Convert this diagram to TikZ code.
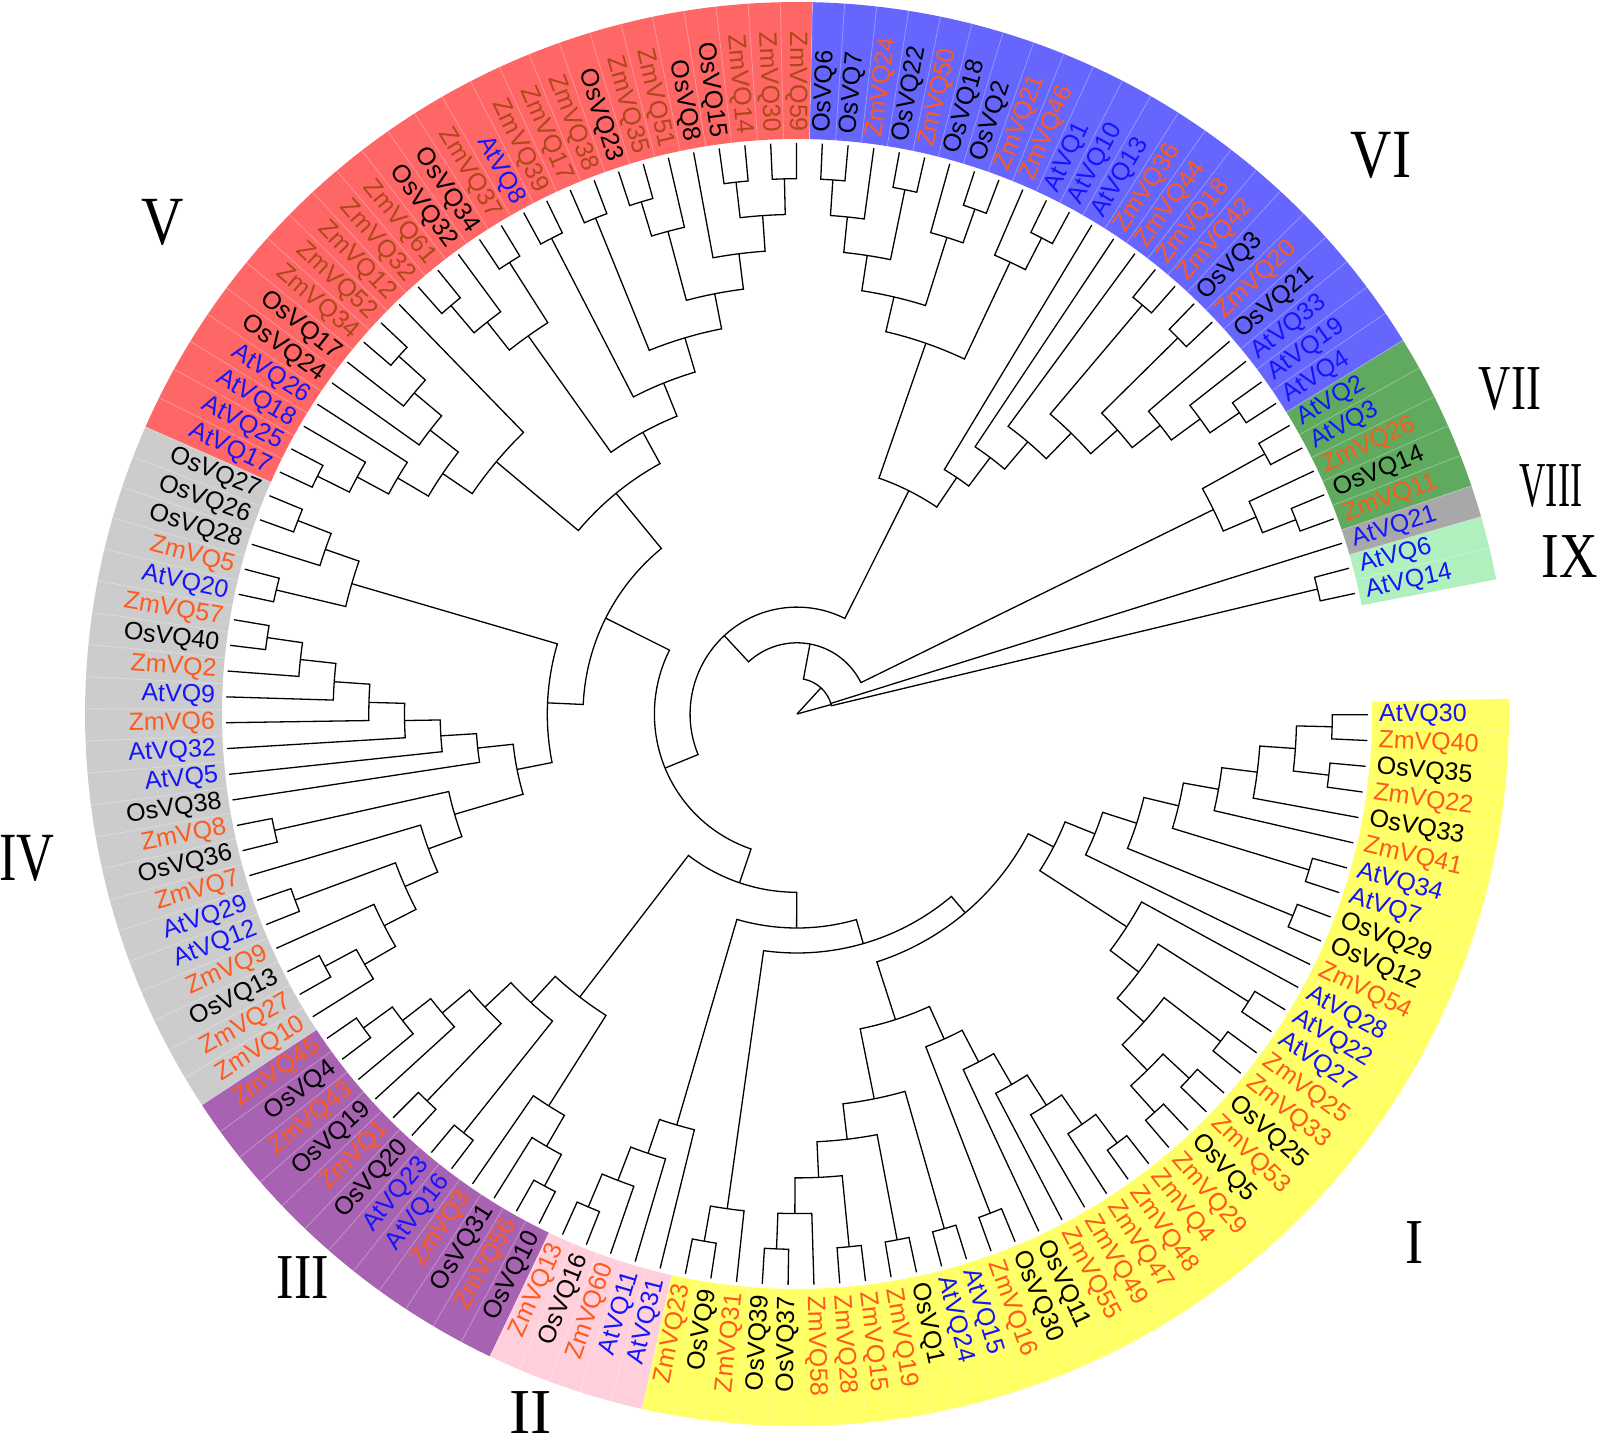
\documentclass[tikz,border=0pt]{standalone}
\usepackage{fontspec}
\setmainfont{Liberation Sans}
\newfontfamily\numfont{Liberation Serif}

\definecolor{bandI}{RGB}{255,255,102}
\definecolor{bandII}{RGB}{255,208,220}
\definecolor{bandIII}{RGB}{168,98,178}
\definecolor{bandIV}{RGB}{204,204,204}
\definecolor{bandV}{RGB}{255,102,102}
\definecolor{bandVI}{RGB}{102,102,255}
\definecolor{bandVII}{RGB}{96,170,96}
\definecolor{bandVIII}{RGB}{168,168,168}
\definecolor{bandIX}{RGB}{176,240,190}
\definecolor{Atcol}{RGB}{20,20,255}
\definecolor{Oscol}{RGB}{0,0,0}
\definecolor{Zmcol}{RGB}{255,90,30}
\definecolor{AtcolV}{RGB}{20,20,255}
\definecolor{OscolV}{RGB}{0,0,0}
\definecolor{ZmcolV}{RGB}{175,72,25}

\tikzset{
  branch/.style={line width=1.3pt, black},
  lbl/.style={inner sep=0pt, font=\fontsize{25}{25}\selectfont},
  numlbl/.style={inner sep=0pt, font=\numfont\fontsize{64}{64}\selectfont},
  sepline/.style={white, opacity=0.3, line width=0.8pt}
}

% annular sector behind leaves #2..#3
\newcommand\band[3]{%
  \pgfmathsetmacro\bA{12.2+2.595*#2-1.2975}%
  \pgfmathsetmacro\bB{12.2+2.595*#3+1.2975}%
  \fill[#1] (\bA:575) arc[start angle=\bA, end angle=\bB, radius=575]
    -- (\bB:712) arc[start angle=\bB, end angle=\bA, radius=712] -- cycle;}

% clade: name, child, child, height
\newcommand\clade[4]{%
  \pgfmathsetmacro\tA{\csname a@#2\endcsname}%
  \pgfmathsetmacro\tB{\csname a@#3\endcsname}%
  \pgfmathsetmacro\rA{\csname r@#2\endcsname}%
  \pgfmathsetmacro\rB{\csname r@#3\endcsname}%
  \pgfmathsetmacro\rN{571-35.7*#4}%
  \pgfmathsetmacro\tN{(\tA+\tB)/2}%
  \draw[branch] (\tA:\rA) -- (\tA:\rN) arc[start angle=\tA, end angle=\tB, radius=\rN] -- (\tB:\rB);
  \coordinate (#1) at (\tN:\rN);
  \expandafter\xdef\csname a@#1\endcsname{\tN}%
  \expandafter\xdef\csname r@#1\endcsname{\rN}}

\begin{document}
\begin{tikzpicture}[x=1pt,y=1pt]
\useasboundingbox (-797,-722) rectangle (803,714);

% groups
\band{bandIX}{0}{1}
\band{bandVIII}{2}{2}
\band{bandVII}{3}{7}
\band{bandVI}{8}{29}
\band{bandV}{30}{55}
\band{bandIV}{56}{77}
\band{bandIII}{78}{89}
\band{bandII}{90}{94}
\band{bandI}{95}{134}
\foreach \i in {0,...,133}{
  \pgfmathsetmacro\sA{12.2+2.595*\i+1.2975}
  \draw[sepline] (\sA:575) -- (\sA:712);
}

% leaves
\foreach \i/\spc/\nr in {0/At/14, 1/At/6, 2/At/21, 3/Zm/11, 4/Os/14, 5/Zm/26, 6/At/3, 7/At/2,
  8/At/4, 9/At/19, 10/At/33, 11/Os/21, 12/Zm/20, 13/Os/3, 14/Zm/42, 15/Zm/18, 16/Zm/44, 17/Zm/36,
  18/At/13, 19/At/10, 20/At/1, 21/Zm/46, 22/Zm/21, 23/Os/2, 24/Os/18, 25/Zm/50, 26/Os/22, 27/Zm/24,
  28/Os/7, 29/Os/6, 30/Zm/59, 31/Zm/30, 32/Zm/14, 33/Os/15, 34/Os/8, 35/Zm/51, 36/Zm/35, 37/Os/23,
  38/Zm/38, 39/Zm/17, 40/Zm/39, 41/At/8, 42/Zm/37, 43/Os/34, 44/Os/32, 45/Zm/61, 46/Zm/32, 47/Zm/12,
  48/Zm/52, 49/Zm/34, 50/Os/17, 51/Os/24, 52/At/26, 53/At/18, 54/At/25, 55/At/17, 56/Os/27, 57/Os/26,
  58/Os/28, 59/Zm/5, 60/At/20, 61/Zm/57, 62/Os/40, 63/Zm/2, 64/At/9, 65/Zm/6, 66/At/32, 67/At/5,
  68/Os/38, 69/Zm/8, 70/Os/36, 71/Zm/7, 72/At/29, 73/At/12, 74/Zm/9, 75/Os/13, 76/Zm/27, 77/Zm/10,
  78/Zm/45, 79/Os/4, 80/Zm/43, 81/Os/19, 82/Zm/1, 83/Os/20, 84/At/23, 85/At/16, 86/Zm/3, 87/Os/31,
  88/Zm/56, 89/Os/10, 90/Zm/13, 91/Os/16, 92/Zm/60, 93/At/11, 94/At/31, 95/Zm/23, 96/Os/9, 97/Zm/31,
  98/Os/39, 99/Os/37, 100/Zm/58, 101/Zm/28, 102/Zm/15, 103/Zm/19, 104/Os/1, 105/At/24, 106/At/15,
  107/Zm/16, 108/Os/30, 109/Os/11, 110/Zm/55, 111/Zm/49, 112/Zm/47, 113/Zm/48, 114/Zm/4, 115/Zm/29,
  116/Os/5, 117/Zm/53, 118/Os/25, 119/Zm/33, 120/Zm/25, 121/At/27, 122/At/22, 123/At/28, 124/Zm/54,
  125/Os/12, 126/Os/29, 127/At/7, 128/At/34, 129/Zm/41, 130/Os/33, 131/Zm/22, 132/Os/35, 133/Zm/40,
  134/At/30}{
  \pgfmathsetmacro\la{12.2+2.595*\i}
  \expandafter\xdef\csname a@\spc VQ\nr\endcsname{\la}
  \expandafter\xdef\csname r@\spc VQ\nr\endcsname{571}
  \edef\lc{\spc col}
  \ifnum\i>29 \ifnum\i<56 \edef\lc{\spc colV}\fi\fi
  \edef\lname{\spc VQ\nr}
  \ifdim\la pt>90pt
    \ifdim\la pt<270pt
      \pgfmathsetmacro\lr{\la-180}
      \node[lbl, text=\lc, anchor=east, rotate=\lr] (\lname) at (\la:582) {\spc VQ\nr};
    \else
      \node[lbl, text=\lc, anchor=west, rotate=\la] (\lname) at (\la:582) {\spc VQ\nr};
    \fi
  \else
    \node[lbl, text=\lc, anchor=west, rotate=\la] (\lname) at (\la:582) {\spc VQ\nr};
  \fi
}

% IX, VIII
\clade{P}{AtVQ14}{AtVQ6}{1}
\clade{Y}{AtVQ21}{P}{15}
% VII
\clade{E1}{AtVQ3}{AtVQ2}{1}
\clade{E2}{ZmVQ11}{OsVQ14}{1}
\clade{E3}{ZmVQ26}{E2}{2}
\clade{E}{E1}{E3}{3}
% VI
\clade{Wa1}{OsVQ6}{OsVQ7}{1}
\clade{Wa2}{Wa1}{ZmVQ24}{2}
\clade{Wp}{OsVQ22}{ZmVQ50}{1}
\clade{Wa3}{Wa2}{Wp}{3}
\clade{Wb1}{OsVQ2}{ZmVQ21}{1}
\clade{Wb2}{OsVQ18}{Wb1}{2}
\clade{Wa4}{Wa3}{Wb2}{4}
\clade{Wc1}{AtVQ1}{AtVQ10}{1}
\clade{Wc2}{ZmVQ46}{Wc1}{2}
\clade{Wa5}{Wa4}{Wc2}{5}
\clade{Wd1}{AtVQ19}{AtVQ4}{1}
\clade{Wd2}{AtVQ33}{Wd1}{2}
\clade{Wd3}{OsVQ21}{Wd2}{3}
\clade{We1}{OsVQ3}{ZmVQ20}{1}
\clade{Wd4}{We1}{Wd3}{4}
\clade{Wf1}{ZmVQ18}{ZmVQ42}{1}
\clade{Wd5}{Wf1}{Wd4}{5}
\clade{Wd6}{ZmVQ44}{Wd5}{6}
\clade{Wd7}{ZmVQ36}{Wd6}{7}
\clade{Wd8}{AtVQ13}{Wd7}{8}
\clade{VIroot}{Wa5}{Wd8}{9}
% V
\clade{Va1}{ZmVQ59}{ZmVQ30}{1}
\clade{Vb0}{ZmVQ14}{OsVQ15}{1}
\clade{Va2}{Vb0}{Va1}{2}
\clade{Va3}{OsVQ8}{Va2}{3}
\clade{Vb1}{OsVQ23}{ZmVQ35}{1}
\clade{Vb2}{Vb1}{ZmVQ51}{2}
\clade{Va4}{Vb2}{Va3}{4}
\clade{Vc1}{ZmVQ38}{ZmVQ17}{1}
\clade{Va5}{Vc1}{Va4}{5}
\clade{Vd1}{ZmVQ39}{AtVQ8}{1}
\clade{Va6}{Vd1}{Va5}{6}
\clade{Ve1}{ZmVQ37}{OsVQ34}{1}
\clade{Ve2}{ZmVQ61}{ZmVQ32}{1}
\clade{Ve3}{OsVQ32}{Ve2}{2}
\clade{Ve4}{Ve3}{Ve1}{3}
\clade{Va7}{Ve4}{Va6}{7}
\clade{Vf1}{ZmVQ52}{ZmVQ34}{1}
\clade{Vf2}{Vf1}{OsVQ17}{2}
\clade{Vf3}{Vf2}{OsVQ24}{3}
\clade{Vg1}{AtVQ25}{AtVQ17}{1}
\clade{Vg2}{AtVQ18}{Vg1}{2}
\clade{Vg3}{AtVQ26}{Vg2}{3}
\clade{Vf4}{Vf3}{Vg3}{4}
\clade{Vf5}{ZmVQ12}{Vf4}{5}
\clade{Vroot}{Va7}{Vf5}{8}
% IV
\clade{Ka1}{OsVQ27}{OsVQ26}{1}
\clade{Ka2}{Ka1}{OsVQ28}{2}
\clade{Ka3}{ZmVQ5}{AtVQ20}{1}
\clade{Ka4}{Ka2}{Ka3}{3}
\clade{Kl1}{ZmVQ57}{OsVQ40}{1}
\clade{Kl2}{Kl1}{ZmVQ2}{2}
\clade{Kl3}{Kl2}{AtVQ9}{3}
\clade{Kl4}{Kl3}{ZmVQ6}{4}
\clade{Kl5}{Kl4}{AtVQ32}{5}
\clade{Kl6}{Kl5}{AtVQ5}{6}
\clade{Kl7}{Kl6}{OsVQ38}{7}
\clade{Q1}{ZmVQ8}{OsVQ36}{1}
\clade{Q2}{OsVQ13}{ZmVQ27}{1}
\clade{Q3}{Q2}{ZmVQ10}{2}
\clade{Q4}{ZmVQ9}{Q3}{3}
\clade{Q5}{AtVQ29}{AtVQ12}{1}
\clade{Q6}{Q5}{Q4}{4}
\clade{Q7}{ZmVQ7}{Q6}{5}
\clade{Q8}{Q1}{Q7}{6}
\clade{Kb}{Kl7}{Q8}{8}
\clade{IVroot}{Ka4}{Kb}{9}
\clade{H}{IVroot}{Vroot}{10}
% III
\clade{Ta1}{ZmVQ45}{OsVQ4}{1}
\clade{Ta2}{Ta1}{ZmVQ43}{2}
\clade{Ta3}{Ta2}{OsVQ19}{3}
\clade{Tb1}{ZmVQ1}{OsVQ20}{1}
\clade{Ta4}{Ta3}{Tb1}{4}
\clade{Tc1}{AtVQ23}{AtVQ16}{1}
\clade{Ta5}{Ta4}{Tc1}{5}
\clade{Td1}{ZmVQ56}{OsVQ10}{1}
\clade{Td2}{OsVQ31}{Td1}{2}
\clade{Td3}{ZmVQ3}{Td2}{3}
\clade{IIIroot}{Ta5}{Td3}{6}
% II
\clade{Sa1}{ZmVQ13}{OsVQ16}{1}
\clade{Sa2}{Sa1}{ZmVQ60}{2}
\clade{Sa3}{Sa2}{AtVQ11}{3}
\clade{IIroot}{Sa3}{AtVQ31}{4}
% I
\clade{Ia1}{ZmVQ23}{OsVQ9}{1}
\clade{Ia2}{Ia1}{ZmVQ31}{2}
\clade{Ib1}{OsVQ39}{OsVQ37}{1}
\clade{Ib2}{Ib1}{ZmVQ58}{2}
\clade{Ib3}{ZmVQ28}{ZmVQ15}{1}
\clade{Ib4}{Ib2}{Ib3}{3}
\clade{Ib5}{ZmVQ19}{OsVQ1}{1}
\clade{Ib6}{Ib4}{Ib5}{4}
\clade{Ib7}{AtVQ24}{AtVQ15}{1}
\clade{Ib8}{Ib6}{Ib7}{5}
\clade{Ic1}{ZmVQ16}{OsVQ30}{1}
\clade{Ic2}{ZmVQ48}{ZmVQ4}{1}
\clade{Ic3}{ZmVQ47}{Ic2}{2}
\clade{Ic4}{ZmVQ49}{Ic3}{3}
\clade{Ic5}{ZmVQ55}{Ic4}{4}
\clade{Ic6}{OsVQ11}{Ic5}{5}
\clade{Ic7}{Ic1}{Ic6}{6}
\clade{Ib9}{Ib8}{Ic7}{7}
\clade{U1}{ZmVQ29}{OsVQ5}{1}
\clade{U2}{ZmVQ53}{OsVQ25}{1}
\clade{U3}{U1}{U2}{2}
\clade{U4}{ZmVQ33}{ZmVQ25}{1}
\clade{U5}{U3}{U4}{3}
\clade{U6}{AtVQ27}{AtVQ22}{1}
\clade{U7}{U5}{U6}{4}
\clade{U8}{U7}{AtVQ28}{5}
\clade{Tp1}{OsVQ12}{OsVQ29}{1}
\clade{Tp2}{AtVQ7}{AtVQ34}{1}
\clade{Tt1}{ZmVQ40}{AtVQ30}{1}
\clade{Tt2}{ZmVQ22}{OsVQ35}{1}
\clade{Tt3}{Tt2}{Tt1}{2}
\clade{Tt4}{OsVQ33}{Tt3}{3}
\clade{Tt5}{ZmVQ41}{Tt4}{4}
\clade{Tt6}{Tp2}{Tt5}{5}
\clade{Tt7}{Tp1}{Tt6}{6}
\clade{Tt8}{ZmVQ54}{Tt7}{7}
\clade{Ic8}{U8}{Tt8}{7.9}
\clade{Ic9}{Ib9}{Ic8}{8.7}
\clade{Iroot}{Ia2}{Ic9}{9.3}
% backbone
\clade{M2}{IIroot}{Iroot}{10}
\clade{M}{IIIroot}{M2}{11}
\clade{G}{H}{M}{12}
\clade{D}{G}{VIroot}{13}
\clade{C}{D}{E}{14}
\clade{X}{C}{Y}{15}
\coordinate (root) at (0,0);
\draw[branch] (root) -- (X);
\draw[branch] (root) -- (Y);

% group numerals
\node[numlbl, xscale=0.85] (nI) at (618,-529) {I};
\node[numlbl] (nII) at (-266,-699) {II};
\node[numlbl, xscale=0.82] (nIII) at (-494,-564) {III};
\node[numlbl, font=\numfont\fontsize{69}{69}\selectfont, xscale=0.76] (nIV) at (-770,-144) {IV};
\node[numlbl, font=\numfont\fontsize{69}{69}\selectfont, xscale=0.85] (nV) at (-634,492) {V};
\node[numlbl, font=\numfont\fontsize{69}{69}\selectfont, xscale=0.83] (nVI) at (584,559) {VI};
\node[numlbl, xscale=0.7] (nVII) at (713,325) {VII};
\node[numlbl, xscale=0.57] (nVIII) at (754,228) {VIII};
\node[numlbl, xscale=0.83] (nIX) at (773,157) {IX};
\end{tikzpicture}
\end{document}
